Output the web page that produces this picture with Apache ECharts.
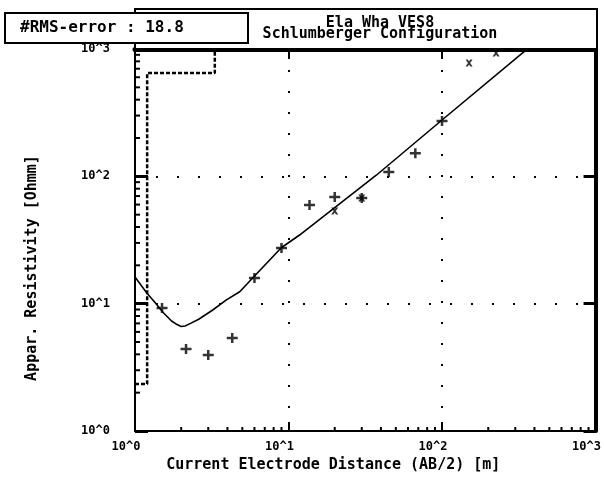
<!DOCTYPE html>
<html>
<head>
<meta charset="utf-8">
<script src="https://cdn.jsdelivr.net/npm/echarts@6/dist/echarts.min.js"></script>
<style>
  html, body { margin: 0; padding: 0; background: #fff; }
  #chart { width: 604px; height: 478px; }
</style>
</head>
<body>
<div id="chart"></div>
<script>
// Sounding data: AB/2 spacing [m] and apparent resistivity [Ohmm]
const abHalf = [1.5, 2.15, 3, 4.3, 6, 9, 13.7, 20, 30, 45, 67, 100];
const rhoObs = [9.25, 4.41, 3.95, 5.37, 15.9, 27.4, 59.6, 68.9, 67.6, 108, 152, 272];
// Readings flagged with a cross
const abHalfFlag = [20, 30, 150, 225];
const rhoFlag = [53.4, 67.6, 776, 930];
// Computed response of the layer model
const modelX = [1.0, 1.19, 1.35, 1.53, 1.73, 1.88, 2.0, 2.12, 2.3, 2.6, 3.21, 3.94, 4.81, 5.84, 8.97, 11.8, 37.3, 100, 341, 420];
const modelY = [16.2, 12.2, 10.2, 8.49, 7.31, 6.85, 6.62, 6.68, 7.0, 7.55, 8.92, 10.7, 12.4, 15.9, 27.5, 34.6, 102, 277, 948, 1160];
// Layer model: depth boundaries and layer resistivities as a step line
const layerX = [1, 1.2, 1.2, 3.31, 3.31];
const layerY = [2.34, 2.34, 648, 648, 3000];
// Axis ticks
const minorTicksX = [2, 3, 4, 5, 6, 7, 8, 9, 20, 30, 40, 50, 60, 70, 80, 90, 200, 300, 400, 500, 600, 700, 800, 900];
const minorTicksY = [2, 3, 4, 5, 6, 7, 8, 9, 20, 30, 40, 50, 60, 70, 80, 90, 200, 300, 400, 500, 600, 700, 800, 900];
const rmsText = '#RMS-error : 18.8';
const titleLines = ['Ela Wha VES8', 'Schlumberger Configuration'];

const FONT = '"DejaVu Sans Mono", "Liberation Mono", monospace';
const pow10Label = v => '10^' + Math.round(Math.log10(v));

const zip = (a, b) => a.map((v, i) => [v, b[i]]);

const chart = echarts.init(document.getElementById('chart'), null, { renderer: 'canvas' });

const plusPath = 'path://M0,3.75H11V6.25H0Z M4.25,0H6.75V10H4.25Z';
const crossPath = 'path://M0,0H2.2L7,7H4.8Z M4.8,0H7L2.2,7H0Z';

chart.setOption({
  animation: false,
  backgroundColor: '#fff',
  grid: { left: 135, right: 7, top: 49, bottom: 47, containLabel: false },
  xAxis: [
    {
      type: 'log', logBase: 10, min: 1, max: 1000, position: 'bottom',
      name: 'Current Electrode Distance (AB/2) [m]',
      nameLocation: 'middle', nameGap: 20,
      nameTextStyle: { fontFamily: FONT, fontWeight: 'bold', fontSize: 15, color: '#000', padding: [0, 64, 0, 0] },
      axisLine: { show: true, lineStyle: { color: '#000', width: 2 } },
      axisTick: { show: true, inside: true, length: 9, lineStyle: { color: '#000', width: 2 } },
      axisLabel: { show: true, formatter: pow10Label, fontFamily: FONT, fontWeight: 'bold', fontSize: 12, color: '#000', margin: 10, padding: [0, 18, 0, 0], showMinLabel: true, showMaxLabel: true, hideOverlap: false },
      splitLine: { show: true, lineStyle: { color: '#000', width: 2, type: [2, 19] } },
      minorTick: { show: false }
    },
    {
      type: 'log', logBase: 10, min: 1, max: 1000, position: 'top',
      axisLine: { show: true, lineStyle: { color: '#000', width: 5 } },
      axisTick: { show: true, inside: true, length: 10, lineStyle: { color: '#000', width: 2 } },
      axisLabel: { show: false },
      splitLine: { show: false }
    }
  ],
  yAxis: [
    {
      type: 'log', logBase: 10, min: 1, max: 1000, position: 'left',
      name: 'Appar. Resistivity [Ohmm]',
      nameLocation: 'middle', nameGap: 95,
      nameTextStyle: { fontFamily: FONT, fontWeight: 'bold', fontSize: 15, color: '#000', padding: [0, 56, 0, 0] },
      axisLine: { show: true, lineStyle: { color: '#000', width: 2 } },
      axisTick: { show: true, inside: true, length: 13, lineStyle: { color: '#000', width: 3 } },
      axisLabel: { show: true, formatter: pow10Label, fontFamily: FONT, fontWeight: 'bold', fontSize: 12, color: '#000', margin: 25, padding: [6, 0, 0, 0], showMinLabel: true, showMaxLabel: true },
      splitLine: { show: true, lineStyle: { color: '#000', width: 2, type: [2, 19] } }
    },
    {
      type: 'log', logBase: 10, min: 1, max: 1000, position: 'right',
      axisLine: { show: true, lineStyle: { color: '#000', width: 4 } },
      axisTick: { show: true, inside: true, length: 12, lineStyle: { color: '#000', width: 3 } },
      axisLabel: { show: false },
      splitLine: { show: false }
    }
  ],
  series: [
    {
      name: 'minor-x', type: 'custom', xAxisIndex: 0, yAxisIndex: 0, clip: false, silent: true,
      data: minorTicksX.map(v => [v, 1]),
      renderItem: (params, api) => {
        const p = api.coord([api.value(0), 1]);
        return { type: 'line', shape: { x1: p[0], y1: p[1], x2: p[0], y2: p[1] - 4 }, style: { stroke: '#000', lineWidth: 2 } };
      }
    },
    {
      name: 'minor-y', type: 'custom', xAxisIndex: 0, yAxisIndex: 0, clip: false, silent: true,
      data: minorTicksY.map(v => [1, v]),
      renderItem: (params, api) => {
        const p = api.coord([1, api.value(1)]);
        return { type: 'line', shape: { x1: p[0], y1: p[1], x2: p[0] + 5, y2: p[1] }, style: { stroke: '#000', lineWidth: 2 } };
      }
    },
    {
      name: 'layers', type: 'line', data: zip(layerX, layerY), showSymbol: false, symbol: 'none',
      lineStyle: { color: '#000', width: 2.5, type: [4, 2] }, clip: true, z: 3
    },
    {
      name: 'model', type: 'line', data: zip(modelX, modelY), showSymbol: false, symbol: 'none',
      lineStyle: { color: '#000', width: 1.6 }, clip: true, z: 4
    },
    {
      name: 'observed', type: 'scatter', data: zip(abHalf, rhoObs),
      symbol: plusPath, symbolSize: [11, 10], itemStyle: { color: '#000' }, z: 5
    },
    {
      name: 'flagged', type: 'scatter', data: zip(abHalfFlag, rhoFlag),
      symbol: crossPath, symbolSize: [7, 7], itemStyle: { color: '#000' }, z: 5
    }
  ],
  graphic: [
    {
      type: 'rect', z: 10, shape: { x: 135, y: 9, width: 462, height: 40 },
      style: { fill: '#fff', stroke: '#000', lineWidth: 2 }
    },
    {
      type: 'text', z: 11, x: 380, y: 23,
      style: { text: titleLines[0], fontFamily: FONT, fontWeight: 'bold', fontSize: 15, fill: '#000', align: 'center', verticalAlign: 'middle' }
    },
    {
      type: 'text', z: 11, x: 380, y: 34,
      style: { text: titleLines[1], fontFamily: FONT, fontWeight: 'bold', fontSize: 15, fill: '#000', align: 'center', verticalAlign: 'middle' }
    },
    {
      type: 'rect', z: 12, shape: { x: 5, y: 13, width: 243, height: 30 },
      style: { fill: '#fff', stroke: '#000', lineWidth: 2 }
    },
    {
      type: 'text', z: 13, x: 20, y: 28,
      style: { text: rmsText, fontFamily: FONT, fontWeight: 'bold', fontSize: 16, fill: '#000', align: 'left', verticalAlign: 'middle' }
    }
  ]
});
</script>
</body>
</html>
